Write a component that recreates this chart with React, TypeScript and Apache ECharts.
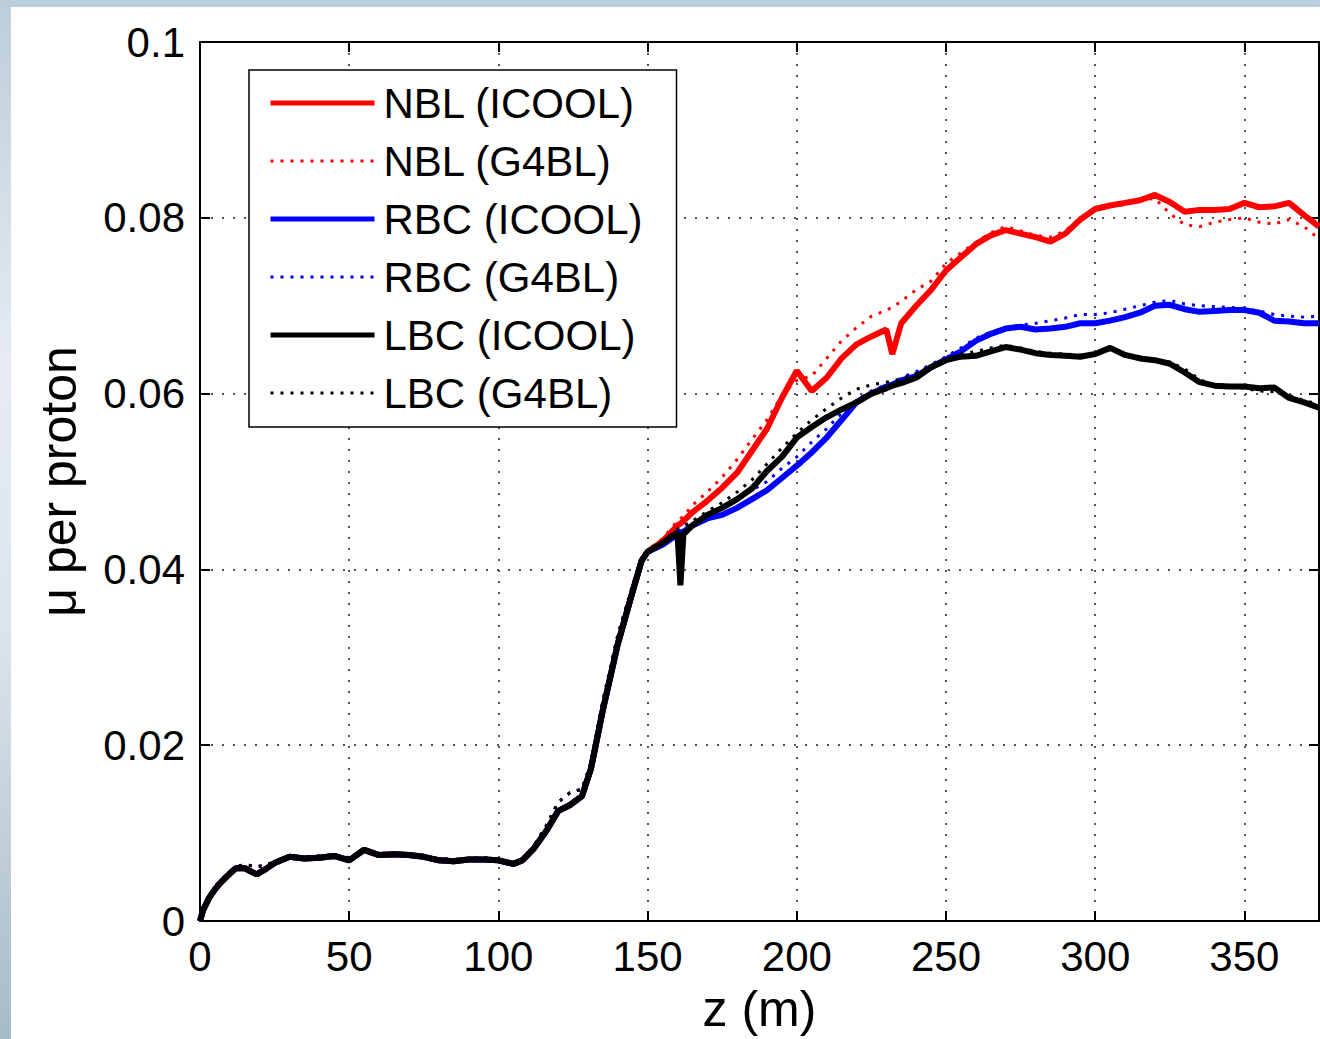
import React, { useEffect, useRef } from "react";
import * as echarts from "echarts";

// z positions (m)
const zHead = [0, 1, 3, 5, 7, 10, 12, 15, 19, 22, 25, 30, 35, 40, 45, 50, 55, 60, 65, 70, 75, 80, 85, 90, 95, 100, 105, 108, 112, 116, 120, 124, 128, 131, 135, 140, 145, 148, 150];
const zTail = [155, 160, 161, 162, 165, 170, 175, 180, 185, 190, 195, 200, 205, 210, 215, 220, 225, 230, 232, 235, 240, 245, 250, 255, 260, 265, 270, 275, 280, 285, 290, 295, 300, 305, 310, 315, 320, 325, 330, 335, 340, 345, 350, 355, 360, 365, 370, 375];

// muons per proton, in units of 1e-3
const headICOOL = [0, 1.2, 2.6, 3.6, 4.4, 5.4, 6.0, 6.0, 5.3, 5.9, 6.6, 7.3, 7.1, 7.2, 7.4, 6.9, 8.1, 7.5, 7.6, 7.5, 7.3, 6.9, 6.8, 7.0, 7.0, 6.9, 6.5, 6.9, 8.3, 10.2, 12.5, 13.2, 14.2, 17.3, 24.0, 31.5, 37.5, 41.0, 42.0];
const headG4BL = [0, 1.3, 2.8, 3.9, 4.7, 5.6, 6.2, 6.4, 6.2, 6.3, 6.8, 7.4, 7.3, 7.4, 7.5, 7.2, 7.9, 7.6, 7.7, 7.6, 7.4, 7.1, 7.0, 7.1, 7.2, 7.0, 6.6, 6.8, 8.6, 10.8, 13.5, 14.6, 15.0, 18.0, 25.0, 32.5, 38.2, 41.4, 42.2];

const nblICOOL = [43.2, 45.0, 45.2, 45.5, 46.5, 47.8, 49.3, 51.0, 53.5, 56.0, 59.5, 62.6, 60.3, 61.8, 64.0, 65.6, 66.5, 67.3, 64.5, 68.0, 70.0, 71.8, 74.0, 75.5, 77.0, 78.0, 78.6, 78.2, 77.8, 77.3, 78.2, 79.8, 81.0, 81.4, 81.7, 82.0, 82.6, 81.8, 80.7, 80.9, 80.9, 81.0, 81.7, 81.2, 81.3, 81.7, 80.3, 79.0];
const nblG4BL = [43.5, 45.5, 45.8, 46.0, 47.3, 48.8, 50.5, 52.5, 54.8, 57.0, 59.8, 61.5, 62.0, 64.0, 66.0, 67.5, 68.8, 69.5, 69.8, 70.5, 71.8, 72.8, 74.8, 76.0, 77.2, 78.3, 79.0, 78.5, 78.0, 77.8, 78.5, 80.0, 81.0, 81.3, 81.5, 82.0, 82.2, 80.5, 79.2, 79.0, 79.5, 79.8, 80.0, 79.5, 79.3, 79.8, 79.0, 77.6];
const rbcICOOL = [42.8, 44.0, 44.2, 44.3, 45.0, 45.8, 46.2, 47.0, 48.0, 49.0, 50.4, 51.8, 53.3, 55.0, 57.0, 59.0, 60.0, 60.8, 61.0, 61.5, 62.0, 63.0, 63.9, 64.8, 66.0, 66.8, 67.4, 67.6, 67.3, 67.4, 67.6, 68.0, 68.0, 68.3, 68.7, 69.2, 70.0, 70.1, 69.6, 69.3, 69.4, 69.5, 69.5, 69.2, 68.3, 68.2, 68.0, 68.0];
const rbcG4BL = [43.0, 44.5, 44.6, 44.8, 45.5, 46.3, 47.0, 48.0, 49.0, 50.0, 51.5, 52.8, 54.5, 56.0, 57.8, 59.3, 60.3, 61.0, 61.2, 61.8, 62.5, 63.3, 64.2, 65.2, 66.3, 67.0, 67.5, 67.8, 68.0, 68.3, 68.6, 69.0, 69.0, 69.2, 69.6, 70.0, 70.4, 70.6, 70.2, 70.0, 69.9, 69.8, 69.7, 69.4, 69.0, 68.8, 68.7, 68.8];
const lbcICOOL = [43.0, 44.2, 38.2, 44.0, 45.0, 46.2, 47.0, 48.0, 49.2, 51.2, 52.8, 55.0, 56.2, 57.3, 58.2, 59.0, 60.0, 60.6, 60.9, 61.2, 61.8, 63.0, 63.8, 64.2, 64.3, 64.8, 65.3, 65.0, 64.6, 64.4, 64.3, 64.2, 64.5, 65.2, 64.4, 64.0, 63.8, 63.4, 62.4, 61.3, 60.9, 60.8, 60.8, 60.6, 60.7, 59.5, 59.0, 58.4];
const lbcG4BL = [43.2, 44.6, 44.7, 44.9, 45.5, 46.6, 47.6, 48.8, 50.2, 52.0, 53.8, 55.5, 57.0, 58.3, 59.5, 60.5, 61.0, 61.3, 61.4, 61.7, 62.3, 63.2, 64.0, 64.5, 64.8, 65.2, 65.5, 65.2, 64.8, 64.6, 64.5, 64.4, 64.6, 65.0, 64.5, 64.2, 63.8, 63.6, 62.8, 61.6, 61.0, 60.9, 60.6, 60.3, 60.2, 59.8, 59.2, 58.8];

const seriesNames = ["NBL (ICOOL)", "NBL (G4BL)", "RBC (ICOOL)", "RBC (G4BL)", "LBC (ICOOL)", "LBC (G4BL)"];
const seriesColors = ["#ff0000", "#ff0000", "#0000ff", "#0000ff", "#000000", "#000000"];
const xTicks = { min: 0, max: 375, interval: 50 };
const yTicks = { min: 0, max: 100, interval: 20 };

const FONT = "'Liberation Sans', Arial, Helvetica, sans-serif";

function toPoints(head: number[], tail: number[]) {
  const zs = [...zHead, ...zTail];
  const vs = [...head, ...tail];
  return zs.map((z, i) => [z, vs[i]]);
}

export default function App() {
  const ref = useRef<HTMLDivElement>(null);
  useEffect(() => {
    if (!ref.current) return;
    const chart = echarts.init(ref.current, undefined, { renderer: "svg" });
    const data = [
      toPoints(headICOOL, nblICOOL),
      toPoints(headG4BL, nblG4BL),
      toPoints(headICOOL, rbcICOOL),
      toPoints(headG4BL, rbcG4BL),
      toPoints(headICOOL, lbcICOOL),
      toPoints(headG4BL, lbcG4BL),
    ];
    const isSolid = (i: number) => i % 2 === 0;
    const axisLineStyle = { color: "#000", width: 2 };
    chart.setOption({
      animation: false,
      backgroundColor: "#ffffff",
      graphic: [
        { type: "rect", left: 0, top: 0, shape: { width: 1320, height: 7 }, style: { fill: "#bccfdc" }, silent: true },
        {
          type: "rect", left: 0, top: 0, shape: { width: 11, height: 1039 },
          style: {
            fill: new echarts.graphic.LinearGradient(0, 0, 0, 1, [
              { offset: 0, color: "#bccddb" },
              { offset: 0.35, color: "#e6ecf1" },
              { offset: 0.6, color: "#dde5eb" },
              { offset: 1, color: "#a6bbca" },
            ]),
          },
          silent: true,
        },
      ],
      grid: { left: 200, top: 42, right: 1, bottom: 117, containLabel: false },
      xAxis: [
        {
          type: "value", ...xTicks, position: "bottom",
          name: "z (m)", nameLocation: "middle", nameGap: 63,
          nameTextStyle: { fontSize: 50, color: "#000", fontFamily: FONT },
          axisLine: { show: true, onZero: false, lineStyle: axisLineStyle },
          axisTick: { show: true, inside: true, length: 10, lineStyle: axisLineStyle },
          axisLabel: { fontSize: 42, color: "#000", margin: 14, fontFamily: FONT, showMaxLabel: false },
          splitLine: { show: true, lineStyle: { color: "#555", width: 2, type: [2, 9] } },
        },
        {
          type: "value", ...xTicks, position: "top",
          axisLine: { show: true, onZero: false, lineStyle: axisLineStyle },
          axisTick: { show: true, inside: true, length: 10, lineStyle: axisLineStyle },
          axisLabel: { show: false },
          splitLine: { show: false },
        },
      ],
      yAxis: [
        {
          type: "value", ...yTicks, position: "left",
          name: "μ per proton", nameLocation: "middle", nameGap: 116,
          nameTextStyle: { fontSize: 50, color: "#000", fontFamily: FONT },
          axisLine: { show: true, onZero: false, lineStyle: axisLineStyle },
          axisTick: { show: true, inside: true, length: 10, lineStyle: axisLineStyle },
          axisLabel: { fontSize: 42, color: "#000", margin: 15, fontFamily: FONT, formatter: (v: number) => String(v / 1000) },
          splitLine: { show: true, lineStyle: { color: "#555", width: 2, type: [2, 9] } },
        },
        {
          type: "value", ...yTicks, position: "right",
          axisLine: { show: true, onZero: false, lineStyle: axisLineStyle },
          axisTick: { show: true, inside: true, length: 10, lineStyle: axisLineStyle },
          axisLabel: { show: false },
          splitLine: { show: false },
        },
      ],
      legend: {
        orient: "vertical", left: 249, top: 70,
        itemWidth: 104, itemHeight: 14, itemGap: 14,
        padding: [11, 34, 12, 19],
        borderColor: "#000", borderWidth: 1.5, backgroundColor: "#fff",
        selectedMode: false,
        textStyle: { fontSize: 42, color: "#000", lineHeight: 44, fontFamily: FONT, padding: [0, 0, 0, 4] },
        data: seriesNames.map((n, i) => ({
          name: n,
          itemStyle: { opacity: 0 },
          lineStyle: { width: isSolid(i) ? 5 : 3 },
        })),
      },
      series: seriesNames.map((n, i) => ({
        name: n,
        type: "line",
        xAxisIndex: 0,
        yAxisIndex: 0,
        data: data[i],
        showSymbol: false,
        symbol: "none",
        color: seriesColors[i],
        lineStyle: isSolid(i)
          ? { color: seriesColors[i], width: 6, type: "solid" }
          : { color: seriesColors[i], width: 3, type: [3, 7] },
        z: 2 + i,
      })),
    });
    return () => chart.dispose();
  }, []);
  return <div ref={ref} style={{ position: "fixed", left: 0, top: 0, width: 1320, height: 1039 }} />;
}
